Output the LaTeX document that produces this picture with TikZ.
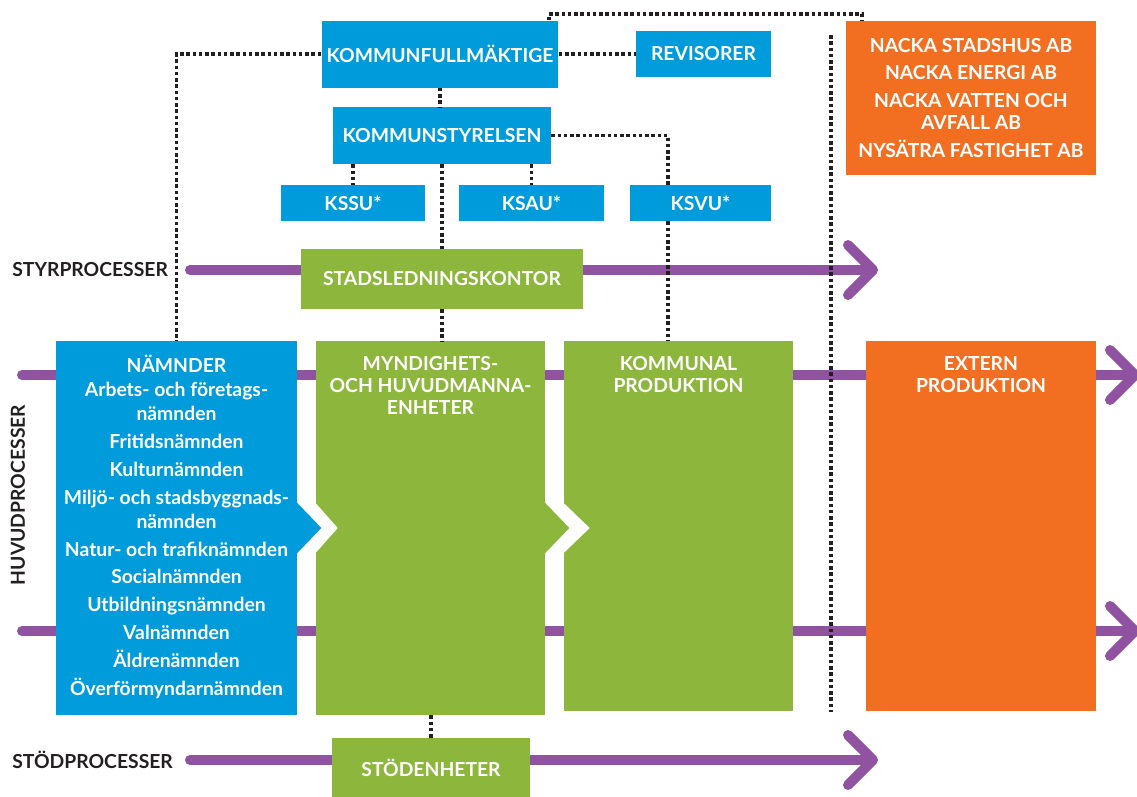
\documentclass[tikz,border=0pt]{standalone}
\usepackage{fontspec}
\setmainfont{Lato}
\usepackage{tikz}
\usetikzlibrary{arrows.meta, calc}

\definecolor{nackablue}{HTML}{009BDB}
\definecolor{nackagreen}{HTML}{8DB63C}
\definecolor{nackaorange}{HTML}{F26F22}
\definecolor{nackapurple}{HTML}{9053A1}
\definecolor{nackadark}{HTML}{231F20}

\tikzset{
	orgbox/.style={rectangle, fill=#1, text=white, inner sep=0pt, align=center,
		font=\bfseries\fontsize{11}{12.7}\selectfont},
	panel/.style={rectangle, fill=#1, inner sep=0pt},
	paneltext/.style={anchor=north, text=white, inner sep=0pt, align=center,
		font=\bfseries\fontsize{11}{12.5}\selectfont},
	link/.style={nackadark, line width=0.075cm, dash pattern=on 0.07cm off 0.055cm},
	process/.style={nackapurple, line width=0.2cm, line cap=round},
	processarrow/.style={process, -{Straight Barb[round, length=0.5cm, width=1cm]}},
	sidelabel/.style={text=nackadark, inner sep=0pt, font=\bfseries\fontsize{11}{12}\selectfont}
}

\begin{document}
\begin{tikzpicture}[x=0.02cm, y=-0.02cm]
			\useasboundingbox (0, 0) rectangle (1137, 796);

			\coordinate (styrstart) at (190, 270);
			\coordinate (styrend) at (878, 270);
			\coordinate (huvudAstart) at (22, 375);
			\coordinate (huvudAend) at (1140, 375);
			\coordinate (huvudBstart) at (22, 631);
			\coordinate (huvudBend) at (1140, 631);
			\coordinate (stodstart) at (190, 760);
			\coordinate (stodend) at (878, 760);

			\draw [processarrow] (styrstart) -- (styrend);
			\draw [processarrow] (huvudAstart) -- (huvudAend);
			\draw [processarrow] (huvudBstart) -- (huvudBend);
			\draw [processarrow] (stodstart) -- (stodend);

			\node [sidelabel, anchor=west] (styrlabel) at (12, 270) {STYRPROCESSER};
			\node [sidelabel, anchor=west] (stodlabel) at (12, 760) {STÖDPROCESSER};
			\node [sidelabel, rotate=90] (huvudlabel) at (18, 495) {HUVUDPROCESSER};

			\node [orgbox=nackablue, minimum width=4.74cm, minimum height=1.34cm] (kf) at (440, 54) {KOMMUNFULLMÄKTIGE};
			\node [orgbox=nackablue, minimum width=2.7cm, minimum height=0.92cm] (rev) at (703.5, 54) {REVISORER};
			\node [orgbox=nackablue, minimum width=4.36cm, minimum height=1.14cm] (ks) at (442, 135.5) {KOMMUNSTYRELSEN};
			\node [orgbox=nackablue, minimum width=2.88cm, minimum height=0.72cm] (kssu) at (353, 203) {KSSU*};
			\node [orgbox=nackablue, minimum width=2.9cm, minimum height=0.72cm] (ksau) at (531.5, 203) {KSAU*};
			\node [orgbox=nackablue, minimum width=2.82cm, minimum height=0.72cm] (ksvu) at (700.5, 203) {KSVU*};
			\node [orgbox=nackagreen, minimum width=5.64cm, minimum height=1.2cm] (slk) at (442, 279) {STADSLEDNINGSKONTOR};
			\node [orgbox=nackaorange, minimum width=5cm, minimum height=3.08cm] (bolag) at (971, 98) {};
			\node [paneltext, font=\bfseries\fontsize{11}{12.8}\selectfont] (bolagtext) at (971, 38) {NACKA STADSHUS AB\\[0.1cm]
				NACKA ENERGI AB\\[0.1cm]
				NACKA VATTEN OCH\\AVFALL AB\\[0.1cm]
				NYSÄTRA FASTIGHET AB};

			\node [panel=nackablue, minimum width=4.82cm, minimum height=7.48cm] (namnder) at (176.5, 528) {};
			\node [panel=nackagreen, minimum width=4.58cm, minimum height=7.48cm] (myn) at (430.5, 528) {};
			\node [panel=nackagreen, minimum width=4.58cm, minimum height=7.4cm] (kom) at (678.5, 526) {};
			\node [panel=nackaorange, minimum width=4.6cm, minimum height=7.4cm] (ext) at (981, 526) {};

			\fill [white] ($(myn.west |- namnder.east)+(-1, -26)$) -- ($(myn.west |- namnder.east)+(22, 0)$) -- ($(myn.west |- namnder.east)+(-1, 26)$) -- cycle;
			\fill [nackablue] ($(namnder.east)+(-1, -26)$) -- ($(namnder.east)+(24, 0)$) -- ($(namnder.east)+(-1, 26)$) -- cycle;
			\fill [white] ($(kom.west |- myn.east)+(-1, -26)$) -- ($(kom.west |- myn.east)+(26, 0)$) -- ($(kom.west |- myn.east)+(-1, 26)$) -- cycle;
			\fill [nackagreen] ($(myn.east)+(-1, -26)$) -- ($(myn.east)+(24, 0)$) -- ($(myn.east)+(-1, 26)$) -- cycle;

			\node [paneltext, font=\bfseries\fontsize{11}{13.6}\selectfont] (namndertext) at (176.5, 355) {NÄMNDER\\
				Arbets- och företags-\\nämnden\\[0.08cm]
				Fritidsnämnden\\[0.08cm]
				Kulturnämnden\\[0.08cm]
				Miljö- och stadsbyggnads-\\nämnden\\[0.08cm]
				Natur- och trafiknämnden\\[0.08cm]
				Socialnämnden\\[0.08cm]
				Utbildningsnämnden\\[0.08cm]
				Valnämnden\\[0.08cm]
				Äldrenämnden\\[0.08cm]
				Överförmyndarnämnden};
			\node [paneltext] (myntext) at (430.5, 356) {MYNDIGHETS-\\OCH HUVUDMANNA-\\ENHETER};
			\node [paneltext] (komtext) at (678.5, 356) {KOMMUNAL\\PRODUKTION};
			\node [paneltext] (exttext) at (981, 356) {EXTERN\\PRODUKTION};

			\node [orgbox=nackagreen, minimum width=3.96cm, minimum height=1.2cm] (stod) at (431, 768) {STÖDENHETER};

			\coordinate (kfup) at (549, 14);
			\coordinate (bolagup) at (862, 14);
			\coordinate (ksvuline) at (668, 0);
			\coordinate (septop) at (831, 35);
			\coordinate (sepbottom) at (831, 712);

			\draw [link] (kf.west) -| (namnder.north);
			\draw [link] (kf.east) -- (rev.west);
			\draw [link] (kfup |- kf.north) -- (kfup) -- (bolagup) -- (bolagup |- bolag.north);
			\draw [link] (kf.south) -- (kf.south |- ks.north);
			\draw [link] (kssu.north |- ks.south) -- (kssu.north);
			\draw [link] (ksau.north |- ks.south) -- (ksau.north);
			\draw [link] (ks.south) -- (slk.north);
			\draw [link] (slk.south) -- (slk.south |- myn.north);
			\draw [link] (ks.east) -| (ksvuline |- ksvu.north);
			\draw [link] (ksvuline |- ksvu.south) -- (ksvuline |- kom.north);
			\draw [link] (septop) -- (sepbottom);
			\draw [link] (stod.north |- myn.south) -- (stod.north);
\end{tikzpicture}
\end{document}
